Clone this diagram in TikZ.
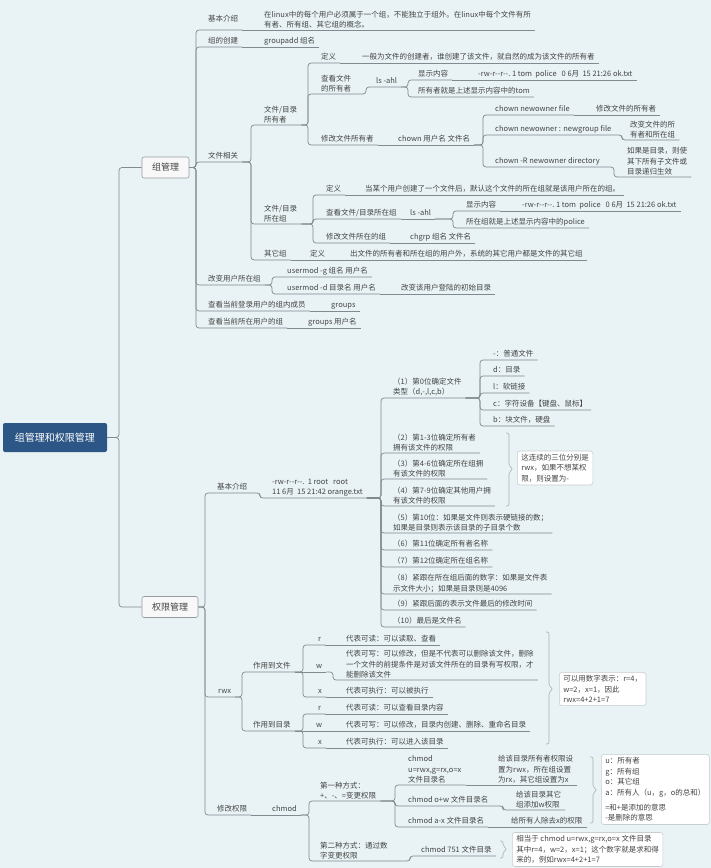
\documentclass[tikz,border=0pt]{standalone}
\usepackage{fontspec}
\setmainfont{Noto Sans CJK SC}
\definecolor{bg}{RGB}{233,243,245}
\definecolor{lk}{RGB}{128,138,143}
\definecolor{tx}{RGB}{68,68,68}
\definecolor{rootc}{RGB}{44,86,133}
\definecolor{bx}{RGB}{150,155,158}
\definecolor{cbb}{RGB}{200,205,208}
\definecolor{boxfill}{RGB}{248,248,248}
\newcommand\myfs{\fontsize{7.5}{10.4}\selectfont}
\newcommand\sumbrace[4]{\draw[brk] (#1,#2) -- ({#1+3},#2) -- ({#1+3},{#3-3}) -- ({#1+7},#3) -- ({#1+3},{#3+3}) -- ({#1+3},#4) -- (#1,#4);}
\begin{document}
\begin{tikzpicture}[x=1pt,y=-1pt,
  link/.style={draw=lk, line width=0.7pt, rounded corners=3pt},
  t/.style={anchor=south west, xshift=-4pt, inner xsep=4pt, inner ysep=1.4pt, text depth=1.6pt, text=tx, font=\myfs},
  tm/.style={anchor=south west, xshift=-4pt, inner xsep=4pt, inner ysep=1.4pt, align=left, text=tx, font=\myfs},
  mainbox/.style={draw=bx, fill=boxfill, rounded corners=2pt, text=tx, font=\fontsize{9}{11}\selectfont, inner sep=0pt, minimum height=21pt, line width=0.6pt},
  callout/.style={draw=cbb, fill=white, rounded corners=2.5pt, align=left, text=tx, font=\myfs, inner xsep=4pt, inner ysep=3pt, anchor=west, line width=0.6pt},
  brk/.style={draw=lk!70, line width=0.6pt, rounded corners=2pt}]
\fill[bg] (0,0) rectangle (711,868);
\useasboundingbox (0,0) rectangle (711,868);

% spine coordinates
\coordinate (s0) at (119,0);
\coordinate (sG) at (196,0);
\coordinate (sF) at (251,0);
\coordinate (sO) at (308,0);
\coordinate (sO2) at (366,0);
\coordinate (sL) at (408,0);
\coordinate (sC) at (483,0);
\coordinate (sC2) at (622,0);
\coordinate (sC3) at (614,0);
\coordinate (sA) at (313,0);
\coordinate (sB) at (453,0);
\coordinate (sU) at (272,0);
\coordinate (sP) at (205,0);
\coordinate (sP1) at (260,0);
\coordinate (sK) at (381,0);
\coordinate (sT) at (480,0);
\coordinate (sR) at (242,0);
\coordinate (sW) at (303,0);
\coordinate (sW2) at (333,0);
\coordinate (sM) at (309,0);
\coordinate (sN) at (395,0);
\coordinate (sN2) at (503,0);
\coordinate (sM2) at (410,0);

% root and main boxes
\node[fill=rootc, rounded corners=2pt, minimum width=104pt, minimum height=29pt, inner sep=0pt, text=white, font=\fontsize{10}{12}\selectfont] (root) at (55,437.5) {组管理和权限管理};
\node[mainbox, minimum width=47pt] (gm) at (165.5,167.5) {组管理};
\node[mainbox, minimum width=56pt] (pm) at (170,607) {权限管理};

% ---------- group management ----------
\node[t, text depth=7pt] (g1) at (208,30) {基本介绍};
\node[tm] (g1a) at (264,30) {在linux中的每个用户必须属于一个组，不能独立于组外。在linux中每个文件有所\\有者、所有组、其它组的概念。};
\node[t] (g2) at (208,47) {组的创建};
\node[t] (g2a) at (264,47) {groupadd 组名};
\node[t] (g3) at (208,162) {文件相关};
\node[tm] (f1) at (264,125) {文件/目录\\所有者};
\node[t] (o1) at (321,63) {定义};
\node[t] (o1a) at (362,63) {一般为文件的创建者，谁创建了该文件，就自然的成为该文件的所有者};
\node[tm] (o2) at (321,94) {查看文件\\的所有者};
\node[t] (o2a) at (376,87) {ls -ahl};
\node[t] (o2a1) at (418,80) {显示内容};
\node[t] (o2a1a) at (478,80) {-rw-r-{}-r-{}-.~1 tom~~police~~~0 6月~~15 21:26 ok.txt};
\node[t] (o2a2) at (418,97) {所有者就是上述显示内容中的tom};
\node[t] (o3) at (321,145) {修改文件所有者};
\node[t] (o3a) at (398,145) {chown 用户名 文件名};
\node[t] (c1) at (495,115) {chown newowner file};
\node[t] (c1a) at (596,115) {修改文件的所有者};
\node[t] (c2) at (495,135) {chown newowner : newgroup file};
\node[tm] (c2a) at (630,140) {改变文件的所\\有者和所在组};
\node[t] (c3) at (495,167) {chown -R newowner directory};
\node[tm] (c3a) at (627,177) {如果是目录，则使\\其下所有子文件或\\目录递归生效};
\node[tm] (f2) at (264,224) {文件/目录\\所在组};
\node[t] (a1) at (326,195) {定义};
\node[t] (a1a) at (365,195) {当某个用户创建了一个文件后，默认这个文件的所在组就是该用户所在的组。};
\node[t] (a2) at (326,219) {查看文件/目录所在组};
\node[t] (a2a) at (410,219) {ls -ahl};
\node[t] (b1) at (466,211) {显示内容};
\node[t] (b1a) at (522,211) {-rw-r-{}-r-{}-.~1 tom~~police~~~0 6月~~15 21:26 ok.txt};
\node[t] (b2) at (466,228) {所在组就是上述显示内容中的police};
\node[t] (a3) at (326,243) {修改文件所在的组};
\node[t] (a3a) at (410,243) {chgrp 组名 文件名};
\node[t] (f3) at (264,260) {其它组};
\node[t] (f3a) at (310,260) {定义};
\node[t] (f3b) at (350,260) {出文件的所有者和所在组的用户外，系统的其它用户都是文件的其它组};
\node[t] (g4) at (208,285) {改变用户所在组};
\node[t] (u1) at (287,277) {usermod -g 组名 用户名};
\node[t] (u2) at (287,294) {usermod -d 目录名 用户名};
\node[t] (u2a) at (401,294) {改变该用户登陆的初始目录};
\node[t] (g5) at (208,311) {查看当前登录用户的组内成员};
\node[t] (g5a) at (331,311) {groups};
\node[t] (g6) at (208,328) {查看当前所在用户的组};
\node[t] (g6a) at (308,328) {groups 用户名};

% ---------- permission management ----------
\node[t] (p1) at (217,493) {基本介绍};
\node[tm] (p1a) at (272,498) {-rw-r-{}-r-{}-.~~1 root~~~root\\11 6月~~15 21:42 orange.txt};
\node[tm] (k1) at (393,398) {（1）第0位确定文件\\类型（d,-,l,c,b）};
\node[t] (t1) at (493,360) {-：普通文件};
\node[t] (t2) at (493,376) {d：目录};
\node[t] (t3) at (493,393) {l：软链接};
\node[t] (t4) at (493,410) {c：字符设备【键盘、鼠标】};
\node[t] (t5) at (493,426) {b：块文件，硬盘};
\node[tm] (k2) at (393,453) {（2）第1-3位确定所有者\\拥有该文件的权限};
\node[tm] (k3) at (393,479) {（3）第4-6位确定所在组拥\\有该文件的权限};
\node[tm] (k4) at (393,506) {（4）第7-9位确定其他用户拥\\有该文件的权限};
\node[tm] (k5) at (393,533) {（5）第10位：如果是文件则表示硬链接的数；\\如果是目录则表示该目录的子目录个数};
\node[t] (k6) at (393,550) {（6）第11位确定所有者名称};
\node[t] (k7) at (393,567) {（7）第12位确定所在组名称};
\node[tm] (k8) at (393,594) {（8）紧跟在所在组后面的数字：如果是文件表\\示文件大小；如果是目录则是4096};
\node[t] (k9) at (393,610) {（9）紧跟后面的表示文件最后的修改时间};
\node[t] (k10) at (393,627) {（10）最后是文件名};

\node[t] (p2) at (218,697) {rwx};
\node[t] (r1) at (253,672) {作用到文件};
\node[t] (w1) at (318,645) {r};
\node[t] (w1a) at (346,645) {代表可读：可以读取、查看};
\node[t] (w2) at (316,672) {w};
\node[tm] (w2a) at (346,680) {代表可写：可以修改，但是不代表可以删除该文件，删除\\一个文件的前提条件是对该文件所在的目录有写权限，才\\能删除该文件};
\node[t] (w3) at (318,697) {x};
\node[t] (w3a) at (346,697) {代表可执行：可以被执行};
\node[t] (r2) at (253,731) {作用到目录};
\node[t] (d1) at (318,714) {r};
\node[t] (d1a) at (346,714) {代表可读：可以查看目录内容};
\node[t] (d2) at (316,731) {w};
\node[t] (d2a) at (346,731) {代表可写：可以修改，目录内创建、删除、重命名目录};
\node[t] (d3) at (318,748) {x};
\node[t] (d3a) at (346,748) {代表可执行：可以进入该目录};

\node[t] (p3) at (217,815) {修改权限};
\node[t] (p3a) at (272,815) {chmod};
\node[tm] (m1) at (320,801) {第一种方式：\\+、-、=变更权限};
\node[tm] (n1) at (408,785) {chmod\\u=rwx,g=rx,o=x\\文件目录名};
\node[tm] (n1a) at (498,785) {给该目录所有者权限设\\置为rwx，所在组设置\\为rx，其它组设置为x};
\node[t] (n2) at (408,806) {chmod o+w 文件目录名};
\node[tm] (n2a) at (516,810) {给该目录其它\\组添加w权限};
\node[t] (n3) at (408,827) {chmod a-x 文件目录名};
\node[t] (n3a) at (511,827) {给所有人除去x的权限};
\node[tm] (m2) at (320,861) {第二种方式：通过数\\字变更权限};
\node[t] (m2a) at (421,856) {chmod 751 文件目录};

% callouts
\node[callout] (cb1) at (517,468) {这连续的三位分别是\\rwx，如果不想某权\\限，则设置为-};
\node[callout] (cb2) at (559,689) {可以用数字表示：r=4，\\w=2，x=1，因此\\rwx=4+2+1=7};
\node[callout] (cb3) at (601,789.5) {u：所有者\\g：所有组\\o：其它组\\a：所有人（u，g，o的总和）\\[5pt]=和+是添加的意思\\-是删除的意思};
\node[callout] (cb4) at (512,849.5) {相当于 chmod u=rwx,g=rx,o=x 文件目录\\其中r=4，w=2，x=1；这个数字就是求和得\\来的，例如rwx=4+2+1=7};

% ---------- connectors ----------
\draw[link] (root.east) -- (root.east -| s0) |- (gm.west);
\draw[link] (root.east) -- (root.east -| s0) |- (pm.west);

\foreach \c in {g1,g2,g3,g4,g5,g6}
  \draw[link] (gm.east) -- (gm.east -| sG) |- (\c.south east);
\draw[link] (g1.south east) -- (g1a.south east);
\draw[link] (g2.south east) -- (g2a.south east);
\foreach \c in {f1,f2,f3}
  \draw[link] (g3.south east) -- (g3.south east -| sF) |- (\c.south east);
\foreach \c in {o1,o2,o3}
  \draw[link] (f1.south east) -- (f1.south east -| sO) |- (\c.south east);
\draw[link] (o1.south east) -- (o1a.south east);
\draw[link] (o2.south east) -- (o2.south east -| sO2) |- (o2a.south east);
\foreach \c in {o2a1,o2a2}
  \draw[link] (o2a.south east) -- (o2a.south east -| sL) |- (\c.south east);
\draw[link] (o2a1.south east) -- (o2a1a.south east);
\draw[link] (o3.south east) -- (o3a.south east);
\foreach \c in {c1,c2,c3}
  \draw[link] (o3a.south east) -- (o3a.south east -| sC) |- (\c.south east);
\draw[link] (c1.south east) -- (c1a.south east);
\draw[link] (c2.south east) -- (c2.south east -| sC2) |- (c2a.south east);
\draw[link] (c3.south east) -- (c3.south east -| sC3) |- (c3a.south east);
\foreach \c in {a1,a2,a3}
  \draw[link] (f2.south east) -- (f2.south east -| sA) |- (\c.south east);
\draw[link] (a1.south east) -- (a1a.south east);
\draw[link] (a2.south east) -- (a2a.south east);
\foreach \c in {b1,b2}
  \draw[link] (a2a.south east) -- (a2a.south east -| sB) |- (\c.south east);
\draw[link] (b1.south east) -- (b1a.south east);
\draw[link] (a3.south east) -- (a3a.south east);
\draw[link] (f3.south east) -- (f3a.south east);
\draw[link] (f3a.south east) -- (f3b.south east);
\foreach \c in {u1,u2}
  \draw[link] (g4.south east) -- (g4.south east -| sU) |- (\c.south east);
\draw[link] (u2.south east) -- (u2a.south east);
\draw[link] (g5.south east) -- (g5a.south east);
\draw[link] (g6.south east) -- (g6a.south east);

\foreach \c in {p1,p2,p3}
  \draw[link] (pm.east) -- (pm.east -| sP) |- (\c.south east);
\draw[link] (p1.south east) -- (p1.south east -| sP1) |- (p1a.south east);
\foreach \c in {k1,k2,k3,k4,k5,k6,k7,k8,k9,k10}
  \draw[link] (p1a.south east) -- (p1a.south east -| sK) |- (\c.south east);
\foreach \c in {t1,t2,t3,t4,t5}
  \draw[link] (k1.south east) -- (k1.south east -| sT) |- (\c.south east);

\foreach \c in {r1,r2}
  \draw[link] (p2.south east) -- (p2.south east -| sR) |- (\c.south east);
\foreach \c in {w1,w3}
  \draw[link] (r1.south east) -- (r1.south east -| sW) |- (\c.south east);
\draw[link] (r1.south east) -- (w2.south east);
\draw[link] (w1.south east) -- (w1a.south east);
\draw[link] (w2.south east) -- (w2.south east -| sW2) |- (w2a.south east);
\draw[link] (w3.south east) -- (w3a.south east);
\foreach \c in {d1,d3}
  \draw[link] (r2.south east) -- (r2.south east -| sW) |- (\c.south east);
\draw[link] (r2.south east) -- (d2.south east);
\draw[link] (d1.south east) -- (d1a.south east);
\draw[link] (d2.south east) -- (d2a.south east);
\draw[link] (d3.south east) -- (d3a.south east);

\draw[link] (p3.south east) -- (p3a.south east);
\foreach \c in {m1,m2}
  \draw[link] (p3a.south east) -- (p3a.south east -| sM) |- (\c.south east);
\foreach \c in {n1,n2,n3}
  \draw[link] (m1.south east) -- (m1.south east -| sN) |- (\c.south east);
\draw[link] (n1.south east) -- (n1a.south east);
\draw[link] (n2.south east) -- (n2.south east -| sN2) |- (n2a.south east);
\draw[link] (n3.south east) -- (n3a.south east);
\draw[link] (m2.south east) -- (m2.south east -| sM2) |- (m2a.south east);

% summary braces
\sumbrace{506}{433}{469}{506}
\sumbrace{546}{632}{689}{744}
\sumbrace{590}{757}{790}{823}
\sumbrace{500}{841}{849}{858}
\end{tikzpicture}
\end{document}
